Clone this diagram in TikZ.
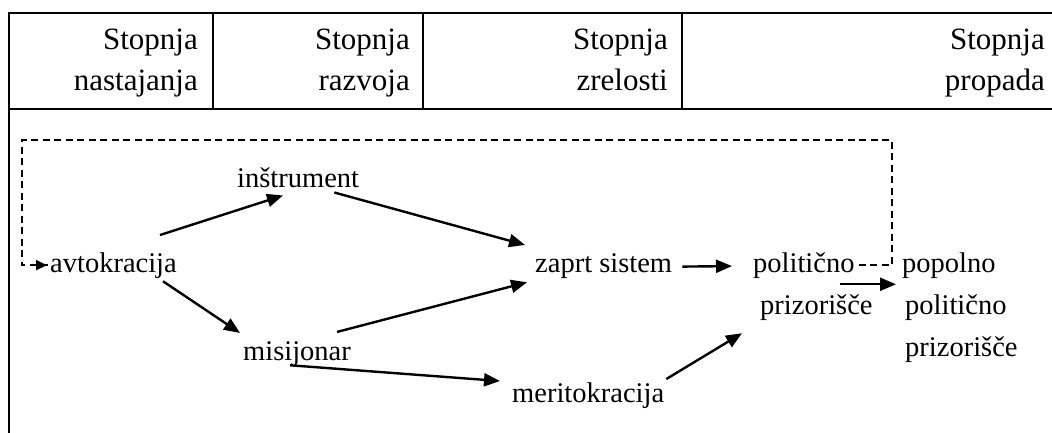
\documentclass[tikz,border=0pt]{standalone}
\usepackage{fontspec}
\setmainfont{Liberation Serif}
\usetikzlibrary{arrows.meta,calc}
\begin{document}
\begin{tikzpicture}[x=1pt,y=-1pt,
  hdr/.style={font=\fontsize{31}{42}\selectfont, inner sep=0pt, anchor=base east},
  lbl/.style={font=\fontsize{28.5}{42}\selectfont, inner sep=0pt, anchor=base west},
  arr/.style={line width=2.4pt, -{Triangle[length=16pt,width=13pt]}},
  dashline/.style={line width=2pt, dash pattern=on 7pt off 4.5pt},
  rule/.style={line width=2pt},
  thinrule/.style={line width=1.2pt}]
\useasboundingbox (0,0) rectangle (1052,433);
% table frame
\draw[rule] (1052,13) -- (8.5,13) -- (8.5,433);
\draw[rule] (8.5,109) -- (1052,109);
\draw[thinrule] (213,13) -- (213,109);
\draw[thinrule] (423,13) -- (423,109);
\draw[thinrule] (682,13) -- (682,109);
% header
\node[hdr] (h1a) at (198,50) {Stopnja};
\node[hdr] (h1b) at (198,91) {nastajanja};
\node[hdr] (h2a) at (410,50) {Stopnja};
\node[hdr] (h2b) at (410,91) {razvoja};
\node[hdr] (h3a) at (668,50) {Stopnja};
\node[hdr] (h3b) at (668,91) {zrelosti};
\node[hdr] (h4a) at (1045,50) {Stopnja};
\node[hdr] (h4b) at (1045,91) {propada};
% labels
\node[lbl] (avt) at (50,272) {avtokracija};
\node[lbl] (ins) at (237,187) {inštrument};
\node[lbl] (mis) at (243,360) {misijonar};
\node[lbl] (zap) at (535,272) {zaprt sistem};
\node[lbl] (mer) at (512,402) {meritokracija};
\node[lbl] (pol) at (753,272) {politično};
\node[lbl] (polb) at (760,314) {prizorišče};
\node[lbl] (pop) at (902,272) {popolno};
\node[lbl] (popb) at (905,314) {politično};
\node[lbl] (popc) at (905,356) {prizorišče};
% dashed feedback loop
\coordinate (dr) at (892,140);
\coordinate (dl) at (22,140);
\draw[dashline] ($(pol.east)+(4,0)$) -| (dr) -- (dl) |- (avt.west);
\draw[line width=2pt, -{Triangle[length=11pt,width=10pt]}] ($(avt.west)+(-13,0)$) -- ($(avt.west)+(-3,0)$);
% arrows
\draw[arr] ($(avt.north east)+(-17,-17)$) -- ($(ins.south west)+(46,8)$);
\draw[arr] ($(ins.south east)+(-25,5)$) -- ($(zap.north west)+(-10,-8)$);
\draw[arr] ($(avt.south east)+(-14,3)$) -- ($(mis.north west)+(-3,-8)$);
\draw[arr] ($(mis.north east)+(-14,-9)$) -- ($(zap.south west)+(-8,4)$);
\draw[arr] ($(mis.south west)+(47,-1)$) -- ($(mer.north west)+(-12,-1)$);
\draw[arr] ($(zap.east)+(10,1)$) -- ($(pol.west)+(-21,1)$);
\draw[arr] ($(mer.north east)+(2,-3)$) -- ($(polb.south west)+(-18,13)$);
\draw[arr] ($(pol.south east)+(-15,6)$) -- ($(pop.south west)+(-6,6)$);
\end{tikzpicture}
\end{document}
